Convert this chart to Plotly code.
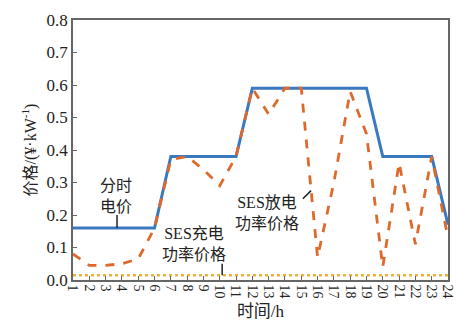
import plotly.graph_objects as go

hours = list(range(1, 25))
tou_price = [0.16, 0.16, 0.16, 0.16, 0.16, 0.16, 0.38, 0.38, 0.38, 0.38, 0.38, 0.59,
             0.59, 0.59, 0.59, 0.59, 0.59, 0.59, 0.59, 0.38, 0.38, 0.38, 0.38, 0.17]
ses_discharge = [0.08, 0.045, 0.045, 0.05, 0.065, 0.16, 0.37, 0.38, 0.34, 0.29, 0.38, 0.59,
                 0.51, 0.59, 0.59, 0.07, 0.30, 0.58, 0.45, 0.04, 0.36, 0.11, 0.38, 0.13]
ses_charge = [0.015] * 24
y_ticks = [0.0, 0.1, 0.2, 0.3, 0.4, 0.5, 0.6, 0.7, 0.8]

FONT = "Liberation Serif, Times New Roman, Noto Sans CJK SC"
TXT = "#222222"

fig = go.Figure()
fig.add_trace(go.Scatter(x=hours, y=ses_charge, mode="lines",
                         line=dict(color="#f2b134", width=2.5, dash="dot"), showlegend=False))
fig.add_trace(go.Scatter(x=hours, y=tou_price, mode="lines",
                         line=dict(color="#3a78c0", width=3), showlegend=False))
fig.add_trace(go.Scatter(x=hours, y=ses_discharge, mode="lines",
                         line=dict(color="#dd6a2c", width=2.8, dash="dash"), showlegend=False))

ann_font = dict(family=FONT, size=16, color=TXT)
fig.add_annotation(x=3.65, y=0.26, text="分时<br>电价", showarrow=False, font=ann_font)
fig.add_annotation(x=8.4, y=0.11, text="SES充电<br>功率价格", showarrow=False, font=ann_font)
fig.add_annotation(x=12.9, y=0.205, text="SES放电<br>功率价格", showarrow=False, font=ann_font)

line_style = dict(color=TXT, width=1.5)
fig.add_shape(type="line", x0=3.7, x1=3.7, y0=0.16, y1=0.2, line=line_style)
fig.add_shape(type="line", x0=10.15, x1=10.15, y0=0.015, y1=0.05, line=line_style)
fig.add_shape(type="line", x0=15.1, x1=15.6, y0=0.25, y1=0.275, line=line_style)

fig.update_layout(
    width=466, height=329,
    margin=dict(l=73, r=11, t=15, b=49),
    paper_bgcolor="white", plot_bgcolor="white",
    font=dict(family=FONT, color=TXT),
    xaxis=dict(range=[1, 24], tickvals=hours, ticktext=[str(h) for h in hours],
               tickangle=90, ticks="inside", ticklen=4, tickcolor="#666",
               showline=True, linecolor="#666", linewidth=1.5, mirror=True,
               showgrid=False, zeroline=False,
               tickfont=dict(family=FONT, size=14, color=TXT),
               title=dict(text="时间/h", font=dict(family=FONT, size=17, color=TXT), standoff=8)),
    yaxis=dict(range=[0, 0.8], tickvals=y_ticks, tickformat=".1f",
               ticks="inside", ticklen=4, tickcolor="#666",
               showline=True, linecolor="#666", linewidth=1.5, mirror=True,
               showgrid=False, zeroline=False,
               tickfont=dict(family=FONT, size=17, color=TXT),
               title=dict(text="价格/(¥·kW<sup>-1</sup>)", font=dict(family=FONT, size=16, color=TXT), standoff=6)),
)

fig.write_html("out.html")
